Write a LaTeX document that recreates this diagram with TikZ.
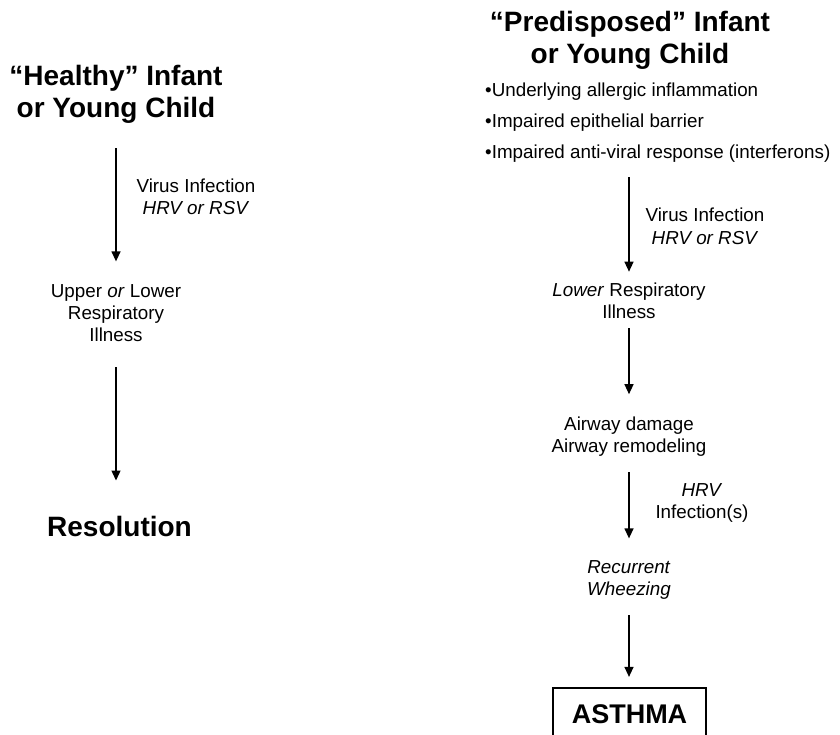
\documentclass[tikz,border=0pt]{standalone}
\usepackage{fontspec}
\setmainfont{Liberation Sans}
\usetikzlibrary{arrows.meta,calc}
\begin{document}
\begin{tikzpicture}[x=1pt,y=-1pt,
  txt/.style={inner sep=0pt,align=center,font=\fontsize{18.8}{22}\selectfont},
  ttl/.style={inner sep=0pt,align=center,font=\fontsize{28}{32}\selectfont\bfseries},
  arr/.style={line width=1.3pt,-{Triangle[width=9pt,length=10pt]}}]
\useasboundingbox (0,0) rectangle (840,735);
\clip (0,0) rectangle (840,735);
% left column (base anchor = baseline of the last line)
\node[ttl,anchor=base] (tl) at (116,118) {“Healthy” Infant\\or Young Child};
\node[txt,anchor=base] (ul) at (116,341) {Upper \textit{or} Lower\\Respiratory\\Illness};
\node[ttl,anchor=base] (res) at (119.5,536) {Resolution};
\node[txt,anchor=base] (lab1) at (196,215) {Virus Infection\\\textit{HRV or RSV}};
\draw[arr] ($(tl.south)+(0,24)$) -- ($(ul.north)+(0,-22.5)$);
\draw[arr] ($(ul.south)+(0,26)$) -- ($(res.north -| ul.south)+(0,-35)$);
% right column
\node[ttl,anchor=base,font=\fontsize{28}{31.5}\selectfont\bfseries] (tr) at (630,63.5) {“Predisposed” Infant\\or Young Child};
\node[txt,anchor=base west,align=left,font=\fontsize{18.8}{31}\selectfont] (bul) at (485,159)
  {•Underlying allergic inflammation\\•Impaired epithelial barrier\\•Impaired anti-viral response (interferons)};
\node[txt,anchor=base] (lr) at (629,318) {\textit{Lower} Respiratory\\Illness};
\node[txt,anchor=base] (ad) at (629,452) {Airway damage\\Airway remodeling};
\node[txt,anchor=base] (rw) at (629,595) {\textit{Recurrent}\\\textit{Wheezing}};
\node[draw,line width=2.2pt,minimum width=153pt,minimum height=52pt,inner sep=0pt,
  font=\fontsize{27}{30}\selectfont\bfseries] (as) at (629.5,714) {ASTHMA};
\node[txt,anchor=base] (labr1) at (705,244) {Virus Infection\\\textit{HRV or RSV}};
\node[txt,anchor=base] (labr3) at (702,518) {\textit{HRV}\\Infection(s)};
\draw[arr] ($(bul.south -| lr.north)+(0,14)$) -- ($(lr.north)+(0,-10.5)$);
\draw[arr] ($(lr.south)+(0,10)$) -- ($(ad.north)+(0,-22)$);
\draw[arr] ($(ad.south)+(0,16)$) -- ($(rw.north)+(0,-21.5)$);
\draw[arr] ($(rw.south)+(0,16)$) -- ($(as.north -| rw.south)+(0,-10)$);
\end{tikzpicture}
\end{document}
